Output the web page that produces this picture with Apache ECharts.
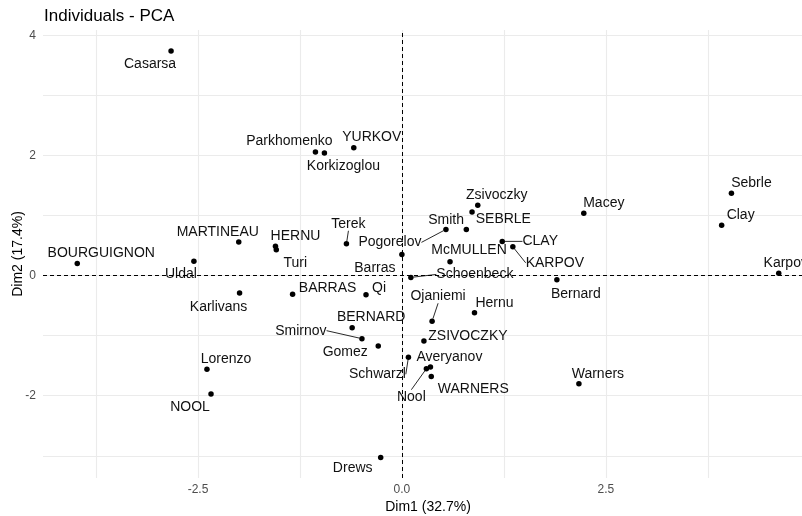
<!DOCTYPE html>
<html>
<head>
<meta charset="utf-8">
<script src="https://cdn.jsdelivr.net/npm/echarts@6/dist/echarts.min.js"></script>
<style>
  html, body { margin: 0; padding: 0; background: #fff; }
  #chart { width: 802px; height: 516px; }
</style>
</head>
<body>
<div id="chart"></div>
<script>
// individuals and their coordinates on the first two dimensions
const names = [
  "SEBRLE", "CLAY", "KARPOV", "BERNARD", "YURKOV", "WARNERS", "ZSIVOCZKY",
  "McMULLEN", "MARTINEAU", "HERNU", "BARRAS", "NOOL", "BOURGUIGNON",
  "Sebrle", "Clay", "Karpov", "Macey", "Warners", "Zsivoczky", "Hernu",
  "Nool", "Bernard", "Schwarzl", "Pogorelov", "Schoenbeck", "Barras",
  "Smith", "Averyanov", "Ojaniemi", "Smirnov", "Qi", "Drews", "Parkhomenko",
  "Terek", "Gomez", "Turi", "Lorenzo", "Karlivans", "Korkizoglou", "Uldal",
  "Casarsa"
];
const dim1 = [
  0.79, 1.23, 1.36, -0.61, -0.59, 0.36, 0.27,
  0.59, -2.00, -1.55, -1.34, -2.34, -3.98,
  4.04, 3.92, 4.62, 2.23, 2.17, 0.93, 0.89,
  0.30, 1.90, 0.08, 0.54, 0.11, 0.00,
  0.86, 0.35, 0.37, -0.49, -0.44, -0.26, -1.06,
  -0.68, -0.29, -1.54, -2.39, -1.99, -0.95, -2.55,
  -2.83
];
const dim2 = [
  0.77, 0.57, 0.48, -0.87, 2.13, -1.68, -1.09,
  0.23, 0.56, 0.49, -0.31, -1.97, 0.20,
  1.37, 0.84, 0.04, 1.04, -1.80, 1.17, -0.62,
  -1.55, -0.07, -1.36, 0.77, -0.03, 0.35,
  1.06, -1.52, -0.76, -1.05, -0.32, -3.03, 2.06,
  0.53, -1.17, 0.43, -1.56, -0.29, 2.04, 0.24,
  3.74
];

const xTicks = [-3.75, -2.5, -1.25, 0, 1.25, 2.5, 3.75];
const xLabels = [-2.5, 0, 2.5];
const yTicks = [-3, -2, -1, 0, 1, 2, 3, 4];
const yLabels = [-2, 0, 2, 4];

// repelled label placement (pixels from the point) and which ones get a leader line
const labelDx = [
  37, 38, 42, 19, 18, 42, 44,
  19, -21, 20, 35, -21, 24,
  20, 19, 7, 20, 19, 19, 20,
  -15, 19, -31, -56, 64, -27,
  -26, 19, 6, -61, 13, -28, -26,
  2, -33, 19, 19, -21, 19, -13,
  -21
];
const labelDy = [
  -10, 0, 16, -11, -11, 13, -5,
  -12, -10, -10, -6, 13, -10,
  -10, -10, -10, -10, -10, -10, -10,
  28, 14, 17, 13, -3, 14,
  8, -10, -25, -8, -7, 11, -11,
  -20, 6, 13, -10, 14, 13, 13,
  13
];
const withSegment = ["CLAY", "KARPOV", "Nool", "Schwarzl", "Pogorelov",
  "Schoenbeck", "Ojaniemi", "Smirnov", "Terek"];

const font = "'Liberation Sans', Arial, sans-serif";
const chart = echarts.init(document.getElementById("chart"));

const points = names.map((n, i) => ({
  name: n,
  value: [dim1[i], dim2[i]],
  labelLine: { show: withSegment.includes(n) },
}));

const gridLine = { show: true, lineStyle: { color: "#ebebeb", width: 1.1 } };

chart.setOption({
  backgroundColor: "#fff",
  animation: false,
  title: {
    text: "Individuals - PCA",
    left: 39,
    top: 3,
    textStyle: { fontFamily: font, fontSize: 17, fontWeight: "normal", color: "#000" },
  },
  grid: { left: 43, right: -11, top: 30, bottom: 38, outerBoundsMode: "none", containLabel: false },
  xAxis: {
    type: "value",
    min: -4.4,
    max: 5.04,
    name: "Dim1 (32.7%)",
    nameLocation: "middle",
    nameGap: 22,
    nameMoveOverlap: false,
    nameTextStyle: { fontFamily: font, fontSize: 14, color: "#000" },
    axisLine: { show: false },
    axisTick: { show: false, customValues: xTicks },
    axisLabel: {
      customValues: xLabels,
      formatter: (v) => v.toFixed(1),
      fontFamily: font, fontSize: 12, color: "#4d4d4d", margin: 6,
    },
    splitLine: gridLine,
  },
  yAxis: {
    type: "value",
    min: -3.37,
    max: 4.09,
    name: "Dim2 (17.4%)",
    nameLocation: "middle",
    nameGap: 18,
    nameMoveOverlap: false,
    nameTextStyle: { fontFamily: font, fontSize: 14, color: "#000" },
    axisLine: { show: false },
    axisTick: { show: false, customValues: yTicks },
    axisLabel: {
      customValues: yLabels,
      formatter: (v) => String(v),
      fontFamily: font, fontSize: 12, color: "#4d4d4d", margin: 7,
    },
    splitLine: gridLine,
  },
  series: [
    {
      type: "scatter",
      data: points,
      symbolSize: 5.5,
      itemStyle: { color: "#000", opacity: 1 },
      label: {
        show: true,
        position: "inside",
        formatter: (p) => p.name,
        fontFamily: font,
        fontSize: 14,
        color: "#111",
      },
      labelLine: { lineStyle: { color: "#111", width: 0.9 } },
      labelLayout: (p) => ({ dx: labelDx[p.dataIndex], dy: labelDy[p.dataIndex] }),
      markLine: {
        silent: true,
        symbol: "none",
        label: { show: false },
        lineStyle: { color: "#000", type: [4, 3], width: 1 },
        data: [{ xAxis: 0 }, { yAxis: 0 }],
      },
      z: 3,
    },
  ],
});
</script>
</body>
</html>
